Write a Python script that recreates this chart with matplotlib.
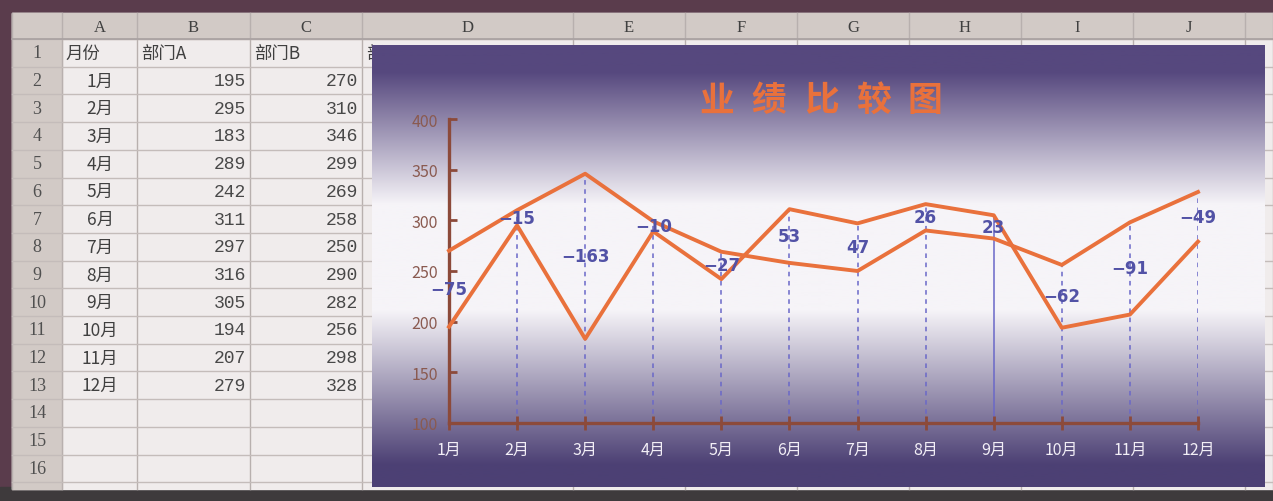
import matplotlib.pyplot as plt
import numpy as np
from matplotlib.patches import Rectangle

plt.rcParams['font.family'] = ['Noto Sans CJK SC', 'DejaVu Sans']

# 数据
months = ["1月", "2月", "3月", "4月", "5月", "6月",
          "7月", "8月", "9月", "10月", "11月", "12月"]
dept_a = [195, 295, 183, 289, 242, 311, 297, 316, 305, 194, 207, 279]
dept_b = [270, 310, 346, 299, 269, 258, 250, 290, 282, 256, 298, 328]
header_row = ["月份", "部门A", "部门B", "部"]
col_letters = ["A", "B", "C", "D", "E", "F", "G", "H", "I", "J"]
y_ticks = [100, 150, 200, 250, 300, 350, 400]
title = "业绩比较图"

W, H = 1273, 502
fig = plt.figure(figsize=(W / 100, H / 100), dpi=100)

# ---- 表格背景 (像素坐标) ----
bg = fig.add_axes([0, 0, 1, 1])
bg.set_xlim(0, W)
bg.set_ylim(H, 0)
bg.axis("off")

bg.add_patch(Rectangle((0, 0), W, H, color="#5a3c4c"))
bg.add_patch(Rectangle((0, 488), W, 14, color="#3e3a3c"))
bg.add_patch(Rectangle((12, 14), 1261, 476, color="#f0ecec"))

col_edges = [12, 62, 137, 250, 362, 573, 685, 797, 909, 1021, 1133, 1245, 1273]
row_h = 27.7
row_top = 40
n_rows = 17

# 列标题与行号底色
bg.add_patch(Rectangle((12, 14), 1261, row_top - 14, color="#d2cac6"))
bg.add_patch(Rectangle((12, 14), 50, 476, color="#d2cac6"))

for xe in col_edges:
    bg.plot([xe, xe], [14, 490], color="#b8b0ae", lw=1)
for r in range(n_rows + 1):
    y = row_top + r * row_h
    bg.plot([12, 1273], [y, y], color="#c4bcba", lw=1)
bg.plot([12, 1273], [row_top, row_top], color="#a8a0a0", lw=1.2)

for i, letter in enumerate(col_letters):
    cx = (col_edges[i + 1] + col_edges[i + 2]) / 2
    if i == len(col_letters) - 1:
        cx = 1189
    bg.text(cx, 28, letter, ha="center", va="center", fontsize=12,
            color="#404040", family=["Liberation Serif"])
for r in range(1, n_rows):
    bg.text(37, row_top + (r - 0.5) * row_h, str(r), ha="center", va="center",
            fontsize=13, color="#505050", family=["Liberation Serif"])

# 表头
head_x = [65, 141, 254, 366]
for hx, txt in zip(head_x, header_row):
    bg.text(hx, row_top + 0.5 * row_h, txt, ha="left", va="center",
            fontsize=12.5, color="#404040")

for i, (m, a, b) in enumerate(zip(months, dept_a, dept_b)):
    cy = row_top + (i + 1.5) * row_h
    bg.text(100, cy, m, ha="center", va="center", fontsize=12.5, color="#404040")
    bg.text(246, cy, str(a), ha="right", va="center", fontsize=13,
            color="#484848", family=["Liberation Mono"])
    bg.text(358, cy, str(b), ha="right", va="center", fontsize=13,
            color="#484848", family=["Liberation Mono"])

# ---- 图表区渐变背景 ----
cl, cr, ct, cb = 372, 1265, 46, 488
grad_ax = fig.add_axes([cl / W, (H - cb) / H, (cr - cl) / W, (cb - ct) / H])
grad_ax.axis("off")
dark_top = np.array([0x56, 0x48, 0x7e]) / 255
light = np.array([0xf6, 0xf4, 0xf8]) / 255
dark_bot = np.array([0x4c, 0x40, 0x74]) / 255
t = np.linspace(0, 1, 400)
stops = [0.0, 0.06, 0.36, 0.6, 0.95, 1.0]
cols = [dark_top, dark_top, light, light, dark_bot, dark_bot]
img = np.zeros((400, 1, 3))
for k in range(3):
    img[:, 0, k] = np.interp(t, stops, [c[k] for c in cols])
grad_ax.imshow(img, aspect="auto", extent=[0, 1, 1, 0])
grad_ax.set_xlim(0, 1)
grad_ax.set_ylim(1, 0)

# ---- 折线图 ----
x0, x1, y_top, y_bot = 449, 1198, 120, 424
ax = fig.add_axes([x0 / W, (H - y_bot) / H, (x1 - x0) / W, (y_bot - y_top) / H])
ax.patch.set_alpha(0)
x = np.arange(len(months))
ax.set_xlim(0, len(months) - 1)
ax.set_ylim(100, 400)

orange = "#e9713c"
brown = "#8c4a3a"
label_blue = "#5252a6"

for i, (a, b) in enumerate(zip(dept_a, dept_b)):
    ls = "-" if i == 8 else (0, (3, 3))
    ax.vlines(i, 100, max(a, b), colors="#6a68c8", linestyles=[ls], lw=1.1, zorder=1)

ax.plot(x, dept_a, color=orange, lw=2.8, zorder=3, clip_on=False)
ax.plot(x, dept_b, color=orange, lw=2.8, zorder=3, clip_on=False)

for i, (a, b) in enumerate(zip(dept_a, dept_b)):
    diff = a - b
    txt = str(diff).replace("-", "\u2212")
    ax.text(i, (a + b) / 2, txt, ha="center", va="center", fontsize=12,
            fontweight="bold", color=label_blue, zorder=4,
            family=["DejaVu Sans"])

for side in ["top", "right"]:
    ax.spines[side].set_visible(False)
for side in ["left", "bottom"]:
    ax.spines[side].set_color(brown)
    ax.spines[side].set_linewidth(2.4)

ax.set_yticks(y_ticks)
ax.set_yticklabels([str(v) for v in y_ticks])
ax.tick_params(axis="y", direction="in", length=6, width=2, color=brown,
               labelcolor="#8a5a50", labelsize=11.5, pad=8)
ax.set_xticks(x)
ax.set_xticklabels(months)
ax.tick_params(axis="x", direction="inout", length=10, width=2, color=brown,
               labelcolor="#f2eef6", labelsize=11.5, pad=8)

# 标题
for i, ch in enumerate(title):
    fig.text((717 + 52 * i) / W, 1 - 101 / H, ch, ha="center", va="center",
             fontsize=25, fontweight="bold", color=orange)

fig.savefig("out.png", dpi=100)
